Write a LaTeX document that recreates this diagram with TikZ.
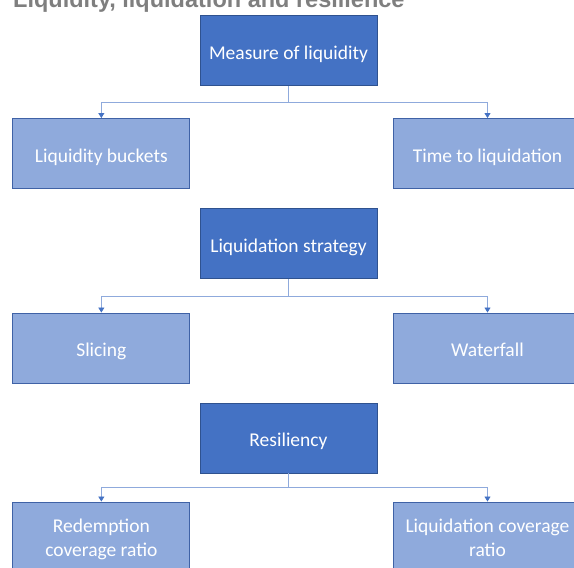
\documentclass[tikz,border=0pt]{standalone}
\usepackage{fontspec}
\setmainfont{Carlito}
\newfontfamily\titlefont{Liberation Sans}
\usetikzlibrary{arrows.meta,calc}
\definecolor{darkfill}{HTML}{4472C4}
\definecolor{darkline}{HTML}{2F528F}
\definecolor{lightfill}{HTML}{8FAADC}
\definecolor{lightline}{HTML}{3F62A6}
\definecolor{connline}{HTML}{8FAADC}
\definecolor{tipcol}{HTML}{4472C4}
\definecolor{titlegray}{HTML}{7F7F7F}
\newcommand{\boxlabel}[2][4pt]{\raisebox{-#1}[\height][\depth]{\begin{tabular}{@{}c@{}}#2\end{tabular}}}
\tikzset{
  parentbox/.style={draw=darkline, fill=darkfill, line width=0.9pt, text=white,
    minimum width=177pt, minimum height=70pt, inner sep=0pt,
    font=\fontsize{19.5}{23.5}\selectfont},
  childbox/.style={draw=lightline, fill=lightfill, line width=0.9pt, text=white,
    minimum width=177pt, minimum height=70pt, inner sep=0pt,
    font=\fontsize{19.5}{23.5}\selectfont},
  widebox/.style={childbox, minimum width=189pt},
  conn/.style={draw=connline, line width=0.8pt,
    -{Triangle[length=5pt,width=6pt,fill=tipcol,color=tipcol]}},
  plainconn/.style={draw=connline, line width=0.8pt},
  titletext/.style={text=titlegray, inner sep=0pt, anchor=base west,
    font=\titlefont\bfseries\fontsize{23.5}{28}\selectfont}
}
\begin{document}
\begin{tikzpicture}[x=1pt,y=-1pt]
\useasboundingbox (0,0) rectangle (574,568);
\clip (0,0) rectangle (574,568);
\node[titletext] (title) at (13,7) {Liquidity, liquidation and resilience};
% group 1
\node[parentbox] (p1) at (288.5,50.5) {\boxlabel{Measure of liquidity}};
\node[childbox] (c1a) at (101.35,153.5) {\boxlabel{Liquidity buckets}};
\node[widebox] (c1b) at (487.5,153.5) {\boxlabel{Time to liquidation}};
\coordinate (j1) at (288.5,102);
\draw[plainconn] (p1.south) -- (j1);
\draw[conn] (j1) -| (c1a.north);
\draw[conn] (j1) -| (c1b.north);
% group 2
\node[parentbox] (p2) at (288.5,243.5) {\boxlabel{Liquidation strategy}};
\node[childbox] (c2a) at (101.35,348) {\boxlabel{Slicing}};
\node[widebox] (c2b) at (487.5,348) {\boxlabel{Waterfall}};
\coordinate (j2) at (288.5,296);
\draw[plainconn] (p2.south) -- (j2);
\draw[conn] (j2) -| (c2a.north);
\draw[conn] (j2) -| (c2b.north);
% group 3
\node[parentbox] (p3) at (288.5,438) {\boxlabel{Resiliency}};
\node[childbox] (c3a) at (101.35,537) {\boxlabel[3pt]{Redemption\\coverage ratio}};
\node[widebox] (c3b) at (487.5,537) {\boxlabel[3pt]{Liquidation coverage\\ratio}};
\coordinate (j3) at (288.5,487);
\draw[plainconn] (p3.south) -- (j3);
\draw[conn] (j3) -| (c3a.north);
\draw[conn] (j3) -| (c3b.north);
\end{tikzpicture}
\end{document}
